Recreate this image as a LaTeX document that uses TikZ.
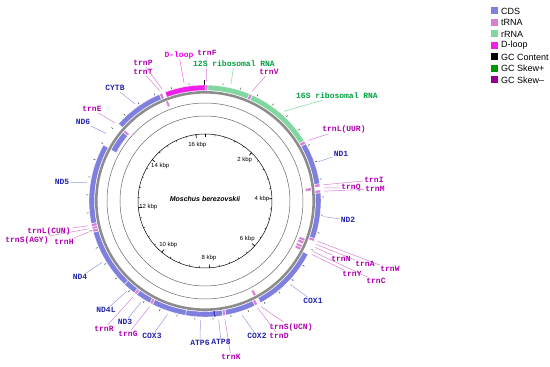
\documentclass[tikz,border=0pt]{standalone}
\usepackage{fontspec}
\usepackage{xcolor}
\usepackage{tikz}
\definecolor{CdsBlue}{HTML}{7F7FDF}
\definecolor{CdsDark}{HTML}{3C3CB4}
\definecolor{TrnaPink}{HTML}{D77FD7}
\definecolor{RrnaGreen}{HTML}{80D8A0}
\definecolor{DloopMag}{HTML}{F020E8}
\definecolor{SkewPlus}{HTML}{009600}
\definecolor{SkewMinus}{HTML}{960096}
\definecolor{CdsText}{HTML}{2424B0}
\definecolor{TrnaText}{HTML}{B000B0}
\definecolor{RrnaText}{HTML}{00A040}
\definecolor{DloopText}{HTML}{F000F0}
\definecolor{RingGray}{HTML}{8C8C8C}
\newfontfamily\monolab{Liberation Mono}
\newfontfamily\legfont{Liberation Sans}

% arc block on a ring: start bp, end bp, inner r, outer r, style
\newcommand{\genearc}[5]{%
  \path[#5] ({90-#1/16354*360}:#3pt) arc[start angle={90-#1/16354*360}, end angle={90-#2/16354*360}, radius=#3pt]
    -- ({90-#2/16354*360}:#4pt) arc[start angle={90-#2/16354*360}, end angle={90-#1/16354*360}, radius=#4pt] -- cycle;}
% label with leader: name, bp, x, y, text, kind
\newcommand{\genelabel}[6]{%
  \coordinate (p-#1) at ({90-#2/16354*360}:119.5pt);
  \node[#6lab] (l-#1) at (#3,#4) {#5};
  \draw[#6line] (p-#1) -- (l-#1);}

\begin{document}
\begin{tikzpicture}[x=1pt,y=1pt,
    cds/.style={fill=CdsBlue,draw=white,line width=0.4pt},
    trna/.style={fill=TrnaPink,draw=white,line width=0.4pt},
    rrna/.style={fill=RrnaGreen,draw=white,line width=0.4pt},
    dloop/.style={fill=DloopMag,draw=white,line width=0.4pt},
    labbase/.style={font=\monolab\bfseries\fontsize{8}{9}\selectfont,inner sep=1pt},
    cdslab/.style={labbase,text=CdsText},
    trnalab/.style={labbase,text=TrnaText},
    rrnalab/.style={labbase,text=RrnaText},
    dlooplab/.style={labbase,text=DloopText},
    cdsline/.style={draw=CdsBlue!80,line width=0.5pt},
    trnaline/.style={draw=TrnaPink,line width=0.5pt},
    rrnaline/.style={draw=RrnaGreen,line width=0.5pt},
    dloopline/.style={draw=DloopMag!70,line width=0.5pt},
    kbplab/.style={font=\legfont\fontsize{6}{7}\selectfont,inner sep=0pt},
    legbox/.style={minimum size=7pt,inner sep=0pt},
    legtext/.style={font=\legfont\fontsize{9}{10}\selectfont,anchor=west,inner sep=0pt}]

\useasboundingbox (-205,-166) rectangle (345,201);

% rings
\draw[RingGray,line width=2.6pt] (0,0) circle[radius=108.7pt];
\draw[gray!80!black,line width=0.5pt] (0,0) circle[radius=98pt];
\draw[gray!80!black,line width=0.5pt] (0,0) circle[radius=85pt];
\draw[black,line width=0.5pt] (0,0) circle[radius=67pt];

% outer ticks, every 400 bp
\foreach \i in {1,...,40}
  \draw[gray!50!black,line width=0.5pt] ({90-\i*400/16354*360}:117pt) -- ({90-\i*400/16354*360}:119pt);
\draw[black,line width=1pt] (90:116pt) -- (90:120.5pt);

% inner kbp scale
\foreach \i in {0,...,40}
  \draw[black,line width=0.4pt] ({90-\i*400/16354*360}:67pt) -- ({90-\i*400/16354*360}:65.5pt);
\foreach \k in {0,2,...,16}
  \draw[black,line width=0.6pt] ({90-\k*1000/16354*360}:67pt) -- ({90-\k*1000/16354*360}:63.5pt);
\foreach \k in {2,4,...,16}
  \node[kbplab] (k\k) at ({90-\k*1000/16354*360}:57pt) {\k\ kbp};
\node[font=\legfont\bfseries\itshape\fontsize{7}{8}\selectfont] (title) at (0,2) {Moschus berezovskii};

% plus strand
\genearc{1}{68}{110.5}{116}{trna}
\genearc{69}{1024}{110.5}{116}{rrna}
\genearc{1025}{1091}{110.5}{116}{trna}
\genearc{1092}{2667}{110.5}{116}{rrna}
\genearc{2668}{2742}{110.5}{116}{trna}
\genearc{2745}{3700}{110.5}{116}{cds}
\genearc{3700}{3768}{110.5}{116}{trna}
\genearc{3840}{3908}{110.5}{116}{trna}
\genearc{3909}{4950}{110.5}{116}{cds}
\genearc{4949}{5015}{110.5}{116}{trna}
\genearc{5332}{6876}{110.5}{116}{cds}
\genearc{6952}{7019}{110.5}{116}{trna}
\genearc{7021}{7704}{110.5}{116}{cds}
\genearc{7708}{7774}{110.5}{116}{trna}
\genearc{7776}{7976}{110.5}{116}{cds}
\genearc{7937}{8617}{110.5}{116}{cds}
\genearc{7937}{7976}{110.5}{116}{fill=CdsDark}
\genearc{8617}{9400}{110.5}{116}{cds}
\genearc{9401}{9469}{110.5}{116}{trna}
\genearc{9470}{9816}{110.5}{116}{cds}
\genearc{9818}{9886}{110.5}{116}{trna}
\genearc{9887}{10183}{110.5}{116}{cds}
\genearc{10177}{11554}{110.5}{116}{cds}
\genearc{11555}{11624}{110.5}{116}{trna}
\genearc{11625}{11684}{110.5}{116}{trna}
\genearc{11686}{11755}{110.5}{116}{trna}
\genearc{11756}{13576}{110.5}{116}{cds}
\genearc{14161}{15300}{110.5}{116}{cds}
\genearc{15304}{15373}{110.5}{116}{trna}
\genearc{15439}{16354}{110.5}{116}{dloop}

% minus strand
\genearc{3766}{3838}{101}{107}{trna}
\genearc{5022}{5090}{101}{107}{trna}
\genearc{5092}{5164}{101}{107}{trna}
\genearc{5196}{5262}{101}{107}{trna}
\genearc{5263}{5330}{101}{107}{trna}
\genearc{6874}{6944}{101}{107}{trna}
\genearc{13560}{14087}{101}{107}{cds}
\genearc{14088}{14156}{101}{107}{trna}
\genearc{15373}{15438}{101}{107}{trna}

% labels
\genelabel{trnf}{34}{2}{148}{trnF}{trna}
\genelabel{rrns}{570}{29}{137}{12S ribosomal RNA}{rrna}
\genelabel{trnv}{1058}{64}{129}{trnV}{trna}
\genelabel{rrnl}{1880}{132}{105}{16S ribosomal RNA}{rrna}
\genelabel{trnl2}{2705}{139}{72}{trnL(UUR)}{trna}
\genelabel{nd1}{3222}{136}{47}{ND1}{cds}
\genelabel{trni}{3734}{169}{21}{trnI}{trna}
\genelabel{trnq}{3802}{146}{13}{trnQ}{trna}
\genelabel{trnm}{3874}{170}{12}{trnM}{trna}
\genelabel{nd2}{4430}{143}{-19}{ND2}{cds}
\genelabel{trnw}{4982}{185}{-68}{trnW}{trna}
\genelabel{trna}{5056}{160}{-63}{trnA}{trna}
\genelabel{trnn}{5128}{136}{-58}{trnN}{trna}
\genelabel{trnc}{5229}{171}{-80}{trnC}{trna}
\genelabel{trny}{5296}{147}{-73}{trnY}{trna}
\genelabel{cox1}{6104}{108}{-100}{COX1}{cds}
\genelabel{trns2}{6909}{86}{-126}{trnS(UCN)}{trna}
\genelabel{trnd}{6985}{74}{-135}{trnD}{trna}
\genelabel{cox2}{7362}{52}{-135}{COX2}{cds}
\genelabel{trnk}{7741}{26}{-156}{trnK}{trna}
\genelabel{atp8}{7876}{16}{-141}{ATP8}{cds}
\genelabel{atp6}{8277}{-5}{-142}{ATP6}{cds}
\genelabel{cox3}{9008}{-53}{-135}{COX3}{cds}
\genelabel{trng}{9435}{-77}{-133}{trnG}{trna}
\genelabel{nd3}{9643}{-80}{-121}{ND3}{cds}
\genelabel{trnr}{9852}{-101}{-128}{trnR}{trna}
\genelabel{nd4l}{10035}{-99}{-109}{ND4L}{cds}
\genelabel{nd4}{10865}{-125}{-76}{ND4}{cds}
\genelabel{trnh}{11590}{-141}{-41}{trnH}{trna}
\genelabel{trns1}{11655}{-178}{-39}{trnS(AGY)}{trna}
\genelabel{trnl1}{11720}{-156}{-30}{trnL(CUN)}{trna}
\genelabel{nd5}{12666}{-143}{19}{ND5}{cds}
\genelabel{nd6}{13824}{-122}{79}{ND6}{cds}
\genelabel{trne}{14122}{-113}{92}{trnE}{trna}
\genelabel{cytb}{14730}{-90}{113}{CYTB}{cds}
\genelabel{trnt}{15338}{-62}{129}{trnT}{trna}
\genelabel{trnp}{15405}{-62}{138}{trnP}{trna}
\genelabel{dloop}{15896}{-26}{146}{D-loop}{dloop}

% legend
\node[legbox,fill=CdsBlue] (leg1) at (290,190) {};
\node[legbox,fill=TrnaPink] (leg2) at (290,178.5) {};
\node[legbox,fill=RrnaGreen] (leg3) at (290,167) {};
\node[legbox,fill=DloopMag] (leg4) at (290,155.5) {};
\node[legbox,fill=black] (leg5) at (290,144) {};
\node[legbox,fill=SkewPlus] (leg6) at (290,132.5) {};
\node[legbox,fill=SkewMinus] (leg7) at (290,121) {};
\node[legtext] (legt1) at (296,190) {CDS};
\node[legtext] (legt2) at (296,178.5) {tRNA};
\node[legtext] (legt3) at (296,167) {rRNA};
\node[legtext] (legt4) at (296,155.5) {D-loop};
\node[legtext] (legt5) at (296,144) {GC Content};
\node[legtext] (legt6) at (296,132.5) {GC Skew+};
\node[legtext] (legt7) at (296,121) {GC Skew\textendash};
\end{tikzpicture}
\end{document}
